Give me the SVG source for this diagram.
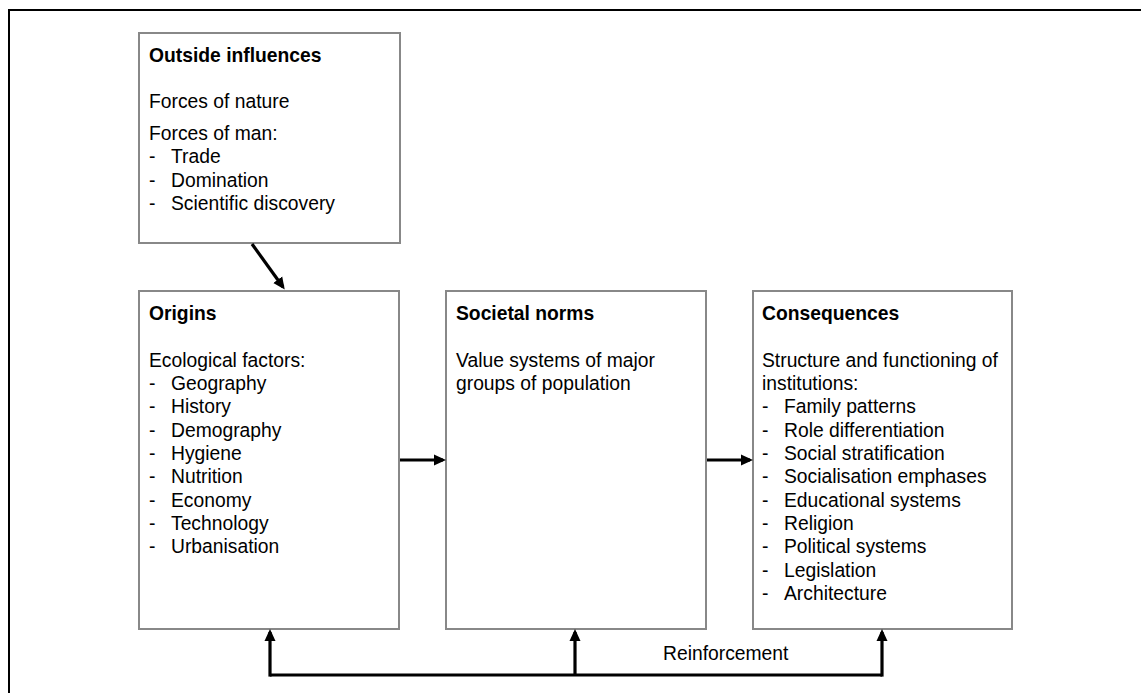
<svg xmlns="http://www.w3.org/2000/svg" width="1141" height="693" viewBox="0 0 1141 693">
  <style>
    .box { fill: #ffffff; stroke: #888888; stroke-width: 2; }
    .frame { fill: none; stroke: #000000; stroke-width: 2; }
    .link { fill: none; stroke: #000000; stroke-width: 3.2; }
    text { font-family: "Liberation Sans", Arial, sans-serif; font-size: 19.3px; fill: #000000; }
    .title { font-weight: bold; }
  </style>
  <defs>
    <marker id="arrow" markerWidth="12" markerHeight="12" refX="9" refY="6" orient="auto" markerUnits="userSpaceOnUse">
      <path d="M0,0.5 L12,6 L0,11.5 Z" fill="#000000"/>
    </marker>
  </defs>

  <rect width="1141" height="693" fill="#ffffff"/>

  <!-- page frame: left and top edges only -->
  <path class="frame" d="M9,693 L9,10 L1141,10"/>

  <g id="outside-influences">
    <rect class="box" x="139" y="33" width="261" height="210"/>
    <text class="title" x="149" y="62">Outside influences</text>
    <text x="149" y="108">Forces of nature</text>
    <text x="149" y="140">Forces of man:</text>
    <text x="149" y="163">-</text><text x="171" y="163">Trade</text>
    <text x="149" y="186.5">-</text><text x="171" y="186.5">Domination</text>
    <text x="149" y="210">-</text><text x="171" y="210">Scientific discovery</text>
  </g>

  <g id="origins">
    <rect class="box" x="139" y="291" width="260" height="338"/>
    <text class="title" x="149" y="320">Origins</text>
    <text x="149" y="366.5">Ecological factors:</text>
    <text x="149" y="390">-</text><text x="171" y="390">Geography</text>
    <text x="149" y="413.3">-</text><text x="171" y="413.3">History</text>
    <text x="149" y="436.6">-</text><text x="171" y="436.6">Demography</text>
    <text x="149" y="460">-</text><text x="171" y="460">Hygiene</text>
    <text x="149" y="483.3">-</text><text x="171" y="483.3">Nutrition</text>
    <text x="149" y="506.6">-</text><text x="171" y="506.6">Economy</text>
    <text x="149" y="530">-</text><text x="171" y="530">Technology</text>
    <text x="149" y="553.3">-</text><text x="171" y="553.3">Urbanisation</text>
  </g>

  <g id="societal-norms">
    <rect class="box" x="446" y="291" width="260" height="338"/>
    <text class="title" x="456" y="320">Societal norms</text>
    <text x="456" y="366.5">Value systems of major</text>
    <text x="456" y="390">groups of population</text>
  </g>

  <g id="consequences">
    <rect class="box" x="753" y="291" width="259" height="338"/>
    <text class="title" x="762" y="320">Consequences</text>
    <text x="762" y="366.5">Structure and functioning of</text>
    <text x="762" y="390">institutions:</text>
    <text x="762" y="413.3">-</text><text x="784" y="413.3">Family patterns</text>
    <text x="762" y="436.6">-</text><text x="784" y="436.6">Role differentiation</text>
    <text x="762" y="460">-</text><text x="784" y="460">Social stratification</text>
    <text x="762" y="483.3">-</text><text x="784" y="483.3">Socialisation emphases</text>
    <text x="762" y="506.6">-</text><text x="784" y="506.6">Educational systems</text>
    <text x="762" y="530">-</text><text x="784" y="530">Religion</text>
    <text x="762" y="553.3">-</text><text x="784" y="553.3">Political systems</text>
    <text x="762" y="576.6">-</text><text x="784" y="576.6">Legislation</text>
    <text x="762" y="600">-</text><text x="784" y="600">Architecture</text>
  </g>

  <g id="connectors">
    <line class="link" x1="252" y1="244" x2="283" y2="287" marker-end="url(#arrow)"/>
    <line class="link" x1="400" y1="460" x2="443" y2="460" marker-end="url(#arrow)"/>
    <line class="link" x1="707" y1="460" x2="750" y2="460" marker-end="url(#arrow)"/>
    <!-- reinforcement loop along the bottom -->
    <path class="link" d="M270,675 L882,675"/>
    <line class="link" x1="270" y1="676.6" x2="270" y2="632" marker-end="url(#arrow)"/>
    <line class="link" x1="575" y1="675" x2="575" y2="632" marker-end="url(#arrow)"/>
    <line class="link" x1="882" y1="676.6" x2="882" y2="632" marker-end="url(#arrow)"/>
    <text x="663" y="659.5">Reinforcement</text>
  </g>
</svg>
